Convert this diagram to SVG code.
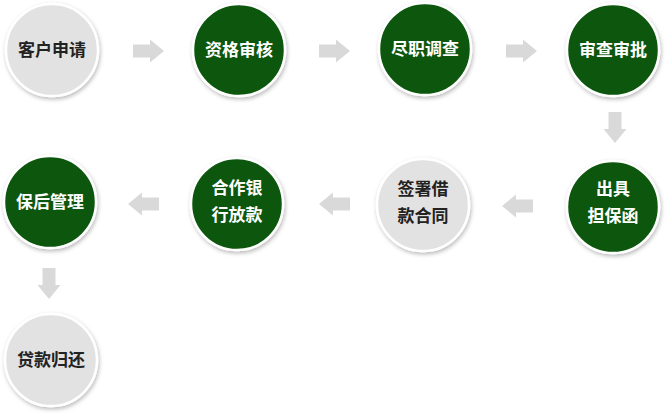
<svg xmlns="http://www.w3.org/2000/svg" width="668" height="415" viewBox="0 0 668 415">
<defs>
<filter id="sh" x="-20%" y="-20%" width="140%" height="140%">
<feDropShadow dx="1" dy="2" stdDeviation="2" flood-color="#000" flood-opacity="0.28"/>
</filter>
<path id="arr" d="M0,-6.5 H17 V-11.5 L31,0 L17,11.5 V6.5 H0 Z"/>
</defs>
<style>
.g{fill:#085709;stroke:#fff;stroke-width:2.5;filter:url(#sh)}
.l{fill:#e2e2e2;stroke:#fff;stroke-width:2.5;filter:url(#sh)}
.tw{fill:#fff;font-family:"Noto Sans CJK SC","Noto Sans",sans-serif;font-weight:bold;font-size:17px;text-anchor:middle}
.td{fill:#222;font-family:"Noto Sans CJK SC","Noto Sans",sans-serif;font-weight:bold;font-size:17px;text-anchor:middle}
.a{fill:#d9d9d9}
</style>
<rect width="668" height="415" fill="#fff"/>
<g id="connectors">
<use href="#arr" class="a" transform="translate(133,51)"/>
<use href="#arr" class="a" transform="translate(319,51)"/>
<use href="#arr" class="a" transform="translate(506,51)"/>
<use href="#arr" class="a" transform="translate(615,112) rotate(90)"/>
<use href="#arr" class="a" transform="translate(533,206) rotate(180)"/>
<use href="#arr" class="a" transform="translate(350,204) rotate(180)"/>
<use href="#arr" class="a" transform="translate(159,204) rotate(180)"/>
<use href="#arr" class="a" transform="translate(49,268) rotate(90)"/>
</g>
<g id="n1"><circle class="l" cx="52" cy="50" r="46"/><text class="td" x="52" y="56">客户申请</text></g>
<g id="n2"><circle class="g" cx="239" cy="50" r="46"/><text class="tw" x="239" y="56">资格审核</text></g>
<g id="n3"><circle class="g" cx="425" cy="49" r="46"/><text class="tw" x="425" y="55">尽职调查</text></g>
<g id="n4"><circle class="g" cx="613" cy="50" r="46"/><text class="tw" x="613" y="56">审查审批</text></g>
<g id="n5"><circle class="g" cx="613" cy="207" r="46"/><text class="tw" x="613" y="195">出具</text><text class="tw" x="613" y="222">担保函</text></g>
<g id="n6"><circle class="l" cx="423" cy="205" r="46"/><text class="td" x="423" y="195">签署借</text><text class="td" x="423" y="222">款合同</text></g>
<g id="n7"><circle class="g" cx="237" cy="204" r="46"/><text class="tw" x="237" y="194">合作银</text><text class="tw" x="237" y="221">行放款</text></g>
<g id="n8"><circle class="g" cx="50" cy="202" r="46"/><text class="tw" x="50" y="208">保后管理</text></g>
<g id="n9"><circle class="l" cx="51" cy="360" r="46"/><text class="td" x="51" y="366">贷款归还</text></g>
</svg>
